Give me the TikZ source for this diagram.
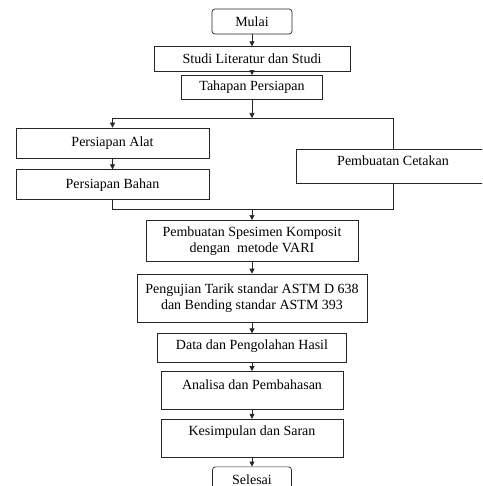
\documentclass[tikz,border=0pt]{standalone}
\usepackage{fontspec}
\setmainfont{Liberation Serif}
\usetikzlibrary{positioning,arrows.meta}

\begin{document}
\begin{tikzpicture}[x=1pt,y=-1pt]
		\tikzstyle{box}=[rectangle, draw=black!85, line width=0.7pt, inner sep=0pt, align=center, font=\fontsize{14}{16}\selectfont]
		\tikzstyle{term}=[box, rounded corners=3pt]
		\tikzstyle{line}=[line width=0.7pt, draw=black!85]
		\tikzstyle{connect}=[line, -{Triangle[length=5pt,width=5pt]}]
		\useasboundingbox (0,0) rectangle (482,486);
		\clip (0,0) rectangle (482,486);
		
		\node[term, minimum width=80pt, minimum height=25pt]  (mulai) at (252,21.5) {Mulai};
		\node[box, minimum width=196pt, minimum height=25pt]  (studi) [below=12pt of mulai] {Studi Literatur dan Studi};
		\node[box, minimum width=141pt, minimum height=24pt]  (tahap) [below=3pt of studi] {Tahapan Persiapan};
		\coordinate (split) at (252,118);
		
		\node[box, minimum width=193pt, minimum height=30pt]  (alat)  at (112.5,143) {Persiapan Alat};
		\node[box, minimum width=193pt, minimum height=30pt]  (bahan) [below=11pt of alat] {Persiapan Bahan};
		\node[box, minimum width=194pt, text height=17pt, text depth=17pt] (cetak) at (393,166) {Pembuatan Cetakan};
		\coordinate (merge) at (252,209);
		
		\node[box, minimum width=212pt, minimum height=41pt]  (spes)  [below=11pt of merge] {Pembuatan Spesimen Komposit\\dengan~ metode VARI};
		\node[box, minimum width=230pt, minimum height=48pt]  (uji)   [below=12pt of spes] {Pengujian Tarik standar ASTM D 638\\dan Bending standar ASTM 393};
		\node[box, minimum width=189pt, text height=16pt, text depth=13pt] (data)  [below=11pt of uji] {Data dan Pengolahan Hasil};
		\node[box, minimum width=182pt, text height=18pt, text depth=20pt] (anal)  [below=8pt of data] {Analisa dan Pembahasan};
		\node[box, minimum width=182pt, text height=16pt, text depth=22pt] (kesim) [below=9pt of anal] {Kesimpulan dan Saran};
		\node[term, minimum width=79pt, minimum height=25pt]  (selesai) [below=9pt of kesim] {Selesai};
		
		\draw[connect] (mulai) -- (studi);
		\draw[connect] (studi) -- (tahap);
		\draw[connect] (tahap) -- (split);
		\draw[connect] (split) -| (alat);
		\draw[line]    (split) -| (cetak);
		\draw[connect] (alat) -- (bahan);
		\draw[line]    (bahan) |- (merge);
		\draw[line]    (cetak) |- (merge);
		\draw[connect] (merge) -- (spes);
		\draw[connect] (spes) -- (uji);
		\draw[connect] (uji) -- (data);
		\draw[connect] (data) -- (anal);
		\draw[connect] (anal) -- (kesim);
		\draw[connect] (kesim) -- (selesai);
		
\end{tikzpicture}
\end{document}
